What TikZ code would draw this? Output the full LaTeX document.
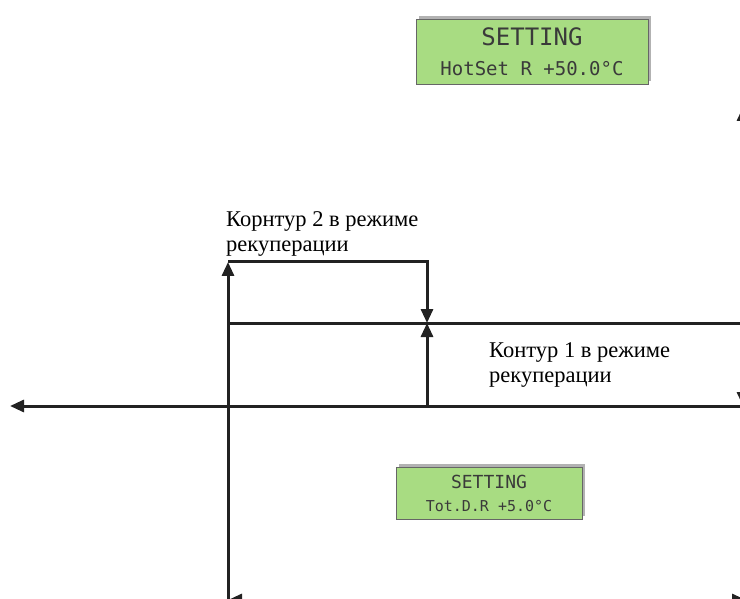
\documentclass[tikz,border=0pt]{standalone}
\usepackage{fontspec}
\setmainfont{Liberation Serif}
\newfontfamily\lcdfont{DejaVu Sans Mono}
\usetikzlibrary{arrows.meta,shadows}
\definecolor{lcdgreen}{HTML}{A8DC82}
\definecolor{lcdink}{HTML}{3A3A3A}
\definecolor{linegray}{HTML}{222222}
\tikzset{
  flow/.style={draw=linegray,line width=3pt,-{Triangle[length=14pt,width=12pt]}},
  wire/.style={draw=linegray,line width=3pt},
  lcd/.style={draw=gray!80!black,fill=lcdgreen,text=lcdink,line width=0.8pt,
    align=center,inner sep=0pt,
    drop shadow={shadow xshift=3pt,shadow yshift=3pt,fill=gray!60,opacity=1}},
  label/.style={align=left,inner sep=0pt,anchor=north west,
    font=\fontsize{22.5}{25.5}\selectfont}
}
\begin{document}
\begin{tikzpicture}[x=1pt,y=-1pt]
\useasboundingbox (0,0) rectangle (740,599);

% display windows
\node[lcd,minimum width=232pt,minimum height=65pt] (hotset) at (532,51.5)
  {\lcdfont\fontsize{24}{30}\selectfont SETTING\\[15pt]
   \lcdfont\fontsize{19}{30}\selectfont HotSet R +50.0°C};
\node[lcd,minimum width=186pt,minimum height=52pt] (totdr) at (489,493)
  {\lcdfont\fontsize{18}{23}\selectfont SETTING\\[11pt]
   \lcdfont\fontsize{15}{23}\selectfont Tot.D.R +5.0°C};

% points of the lines
\coordinate (top) at (228,262);
\coordinate (bot) at (228,603);
\coordinate (c2) at (427,262);
\coordinate (c2in) at (427,323);
\coordinate (c2out) at (427,406);
\coordinate (c1l) at (228,323);
\coordinate (c1r) at (743,323);
\coordinate (axr) at (743,406);
\coordinate (axl) at (10,406);
\coordinate (up) at (743,107);
\coordinate (dl) at (228,600);
\coordinate (dr) at (746,600);

\draw[flow] (bot)--(top);
\draw[flow] (top)--(c2)--(c2in);
\draw[flow] (c2out)--(c2in);
\draw[wire] (c1l)--(c1r);
\draw[flow] (c1r)--(up);
\draw[flow] (c1r)--(axr);
\draw[flow] (axr)--(axl);
\draw[flow,{Triangle[length=14pt,width=12pt]}-{Triangle[length=14pt,width=12pt]}] (dl)--(dr);

% texts
\node[label] (k2) at (226,211) {Корнтур 2 в режиме\\рекуперации};
\node[label] (k1) at (489,342) {Контур 1 в режиме\\рекуперации};
\end{tikzpicture}
\end{document}
